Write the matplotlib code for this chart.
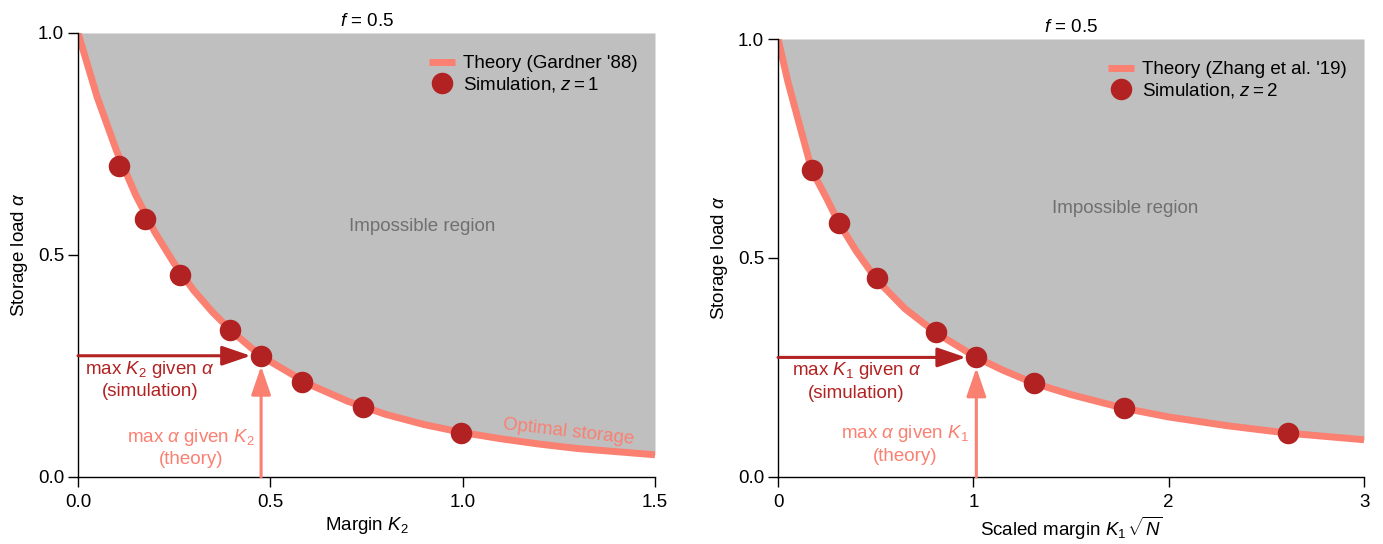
import matplotlib
matplotlib.use("Agg")
import matplotlib.pyplot as plt

plt.rcParams['font.family'] = ['Liberation Sans', 'DejaVu Sans']
plt.rcParams['mathtext.fontset'] = 'custom'
plt.rcParams['mathtext.rm'] = 'Liberation Sans'
plt.rcParams['mathtext.it'] = 'Liberation Sans:italic'
plt.rcParams['mathtext.sf'] = 'Liberation Sans'

# ---- data ----
# Left panel: Gardner theory curve, margin K2 vs storage load alpha
theory_k2 = [0.0, 0.05, 0.1, 0.15, 0.2, 0.25, 0.3, 0.35, 0.4, 0.45, 0.5, 0.6, 0.7,
             0.8, 0.9, 1.0, 1.1, 1.2, 1.3, 1.4, 1.5]
theory_alpha_left = [1.0, 0.855, 0.735, 0.635, 0.551, 0.481, 0.421, 0.371, 0.328, 0.291,
                     0.260, 0.209, 0.171, 0.141, 0.118, 0.100, 0.086, 0.074, 0.064, 0.057, 0.050]
sim_k2 = [0.107, 0.174, 0.265, 0.395, 0.476, 0.582, 0.741, 0.996]
sim_alpha = [0.70, 0.58, 0.455, 0.33, 0.273, 0.214, 0.158, 0.10]

# Right panel: Zhang et al. theory curve, scaled margin K1*sqrt(N)
theory_k1 = [0.0, 0.05, 0.1, 0.173, 0.25, 0.311, 0.4, 0.505, 0.65, 0.806, 1.015, 1.15,
             1.311, 1.5, 1.77, 2.0, 2.3, 2.612, 3.0]
theory_alpha_right = [1.0, 0.903, 0.820, 0.70, 0.635, 0.58, 0.516, 0.45, 0.384, 0.33,
                      0.273, 0.244, 0.214, 0.188, 0.157, 0.137, 0.117, 0.10, 0.085]
sim_k1 = [0.173, 0.311, 0.505, 0.806, 1.015, 1.311, 1.770, 2.612]

highlight = 4  # index of the annotated simulation point

SALMON = '#fa8072'
RED = '#b22222'
GRAY = '#bfbfbf'
TEXTGRAY = '#707070'
FS = 13.5

fig = plt.figure(figsize=(13.83, 5.44), dpi=100)
axL = fig.add_axes([0.0564, 0.1232, 0.4172, 0.8162])
axR = fig.add_axes([0.5626, 0.1232, 0.4237, 0.8051])


def panel(ax, tx, ty, sx, sy, xmax, theory_label, sim_label, xlabel, kname,
          imp_xy, sim_txt, th_txt, leg_x):
    ax.fill_between(tx, ty, 1.0, color=GRAY, lw=0, zorder=0)
    ax.plot(tx, ty, color=SALMON, lw=5, solid_capstyle='butt', zorder=2,
            label=theory_label)
    ax.plot(sx, sy, 'o', color=RED, ms=15.5, mec='none', zorder=4, label=sim_label)
    ax.set_xlim(0, xmax)
    ax.set_ylim(0, 1)
    ax.set_yticks([0, 0.5, 1.0])
    ax.set_yticklabels(['0.0', '0.5', '1.0'])
    for s in ['top', 'right']:
        ax.spines[s].set_visible(False)
    for s in ['left', 'bottom']:
        ax.spines[s].set_linewidth(1.0)
    ax.tick_params(direction='out', length=7, width=1, labelsize=FS, pad=3)
    ax.tick_params(axis='x', pad=5)
    ax.set_ylabel(r'Storage load $\alpha$', fontsize=FS, labelpad=6)
    ax.set_xlabel(xlabel, fontsize=FS, labelpad=3)
    ax.set_title(r'$f$ = 0.5', fontsize=FS, pad=5)
    ax.text(imp_xy[0], imp_xy[1], 'Impossible region', color=TEXTGRAY,
            fontsize=FS, ha='center', va='center')
    ax.legend(loc='upper right', frameon=False, fontsize=FS,
              handlelength=1.4, handletextpad=0.45, borderaxespad=0.2,
              labelspacing=0.15, bbox_to_anchor=(leg_x, 0.975))

    hx, hy = sx[highlight], sy[highlight]
    style = '-|>,head_length=1.75,head_width=0.6'
    ax.annotate('', xy=(hx, hy), xytext=(0, hy),
                arrowprops=dict(arrowstyle=style, mutation_scale=10,
                                color=RED, lw=2.2, shrinkA=0, shrinkB=7.5),
                zorder=3)
    ax.annotate('', xy=(hx, hy), xytext=(hx, 0),
                arrowprops=dict(arrowstyle=style, mutation_scale=10,
                                color=SALMON, lw=2.2, shrinkA=0, shrinkB=7.5),
                zorder=3)
    x1, y1a, y1b = sim_txt
    ax.text(x1, y1a, 'max $%s$ given $\\alpha$' % kname, color=RED,
            fontsize=FS, ha='center', va='center')
    ax.text(x1, y1b, '(simulation)', color=RED,
            fontsize=FS, ha='center', va='center')
    x2, y2a, y2b = th_txt
    ax.text(x2, y2a, 'max $\\alpha$ given $%s$' % kname, color=SALMON,
            fontsize=FS, ha='center', va='center')
    ax.text(x2, y2b, '(theory)', color=SALMON,
            fontsize=FS, ha='center', va='center')


panel(axL, theory_k2, theory_alpha_left, sim_k2, sim_alpha, 1.5,
      "Theory (Gardner '88)", 'Simulation, $z=1$', r'Margin $K_2$', 'K_2',
      (0.894, 0.563), (0.187, 0.243, 0.193), (0.294, 0.089, 0.040), 0.99)
panel(axR, theory_k1, theory_alpha_right, sim_k1, sim_alpha, 3.0,
      "Theory (Zhang et al. '19)", 'Simulation, $z=2$',
      r'Scaled margin $K_1\,\sqrt{N}$', 'K_1',
      (1.776, 0.613), (0.40, 0.243, 0.190), (0.65, 0.099, 0.047), 0.99)

axL.set_xticks([0, 0.5, 1.0, 1.5])
axL.set_xticklabels(['0.0', '0.5', '1.0', '1.5'])
axR.set_xticks([0, 1, 2, 3])

axL.text(1.274, 0.101, 'Optimal storage', color=SALMON, fontsize=FS,
         ha='center', va='center', rotation=-6.5)

fig.savefig('out.png', dpi=100)
